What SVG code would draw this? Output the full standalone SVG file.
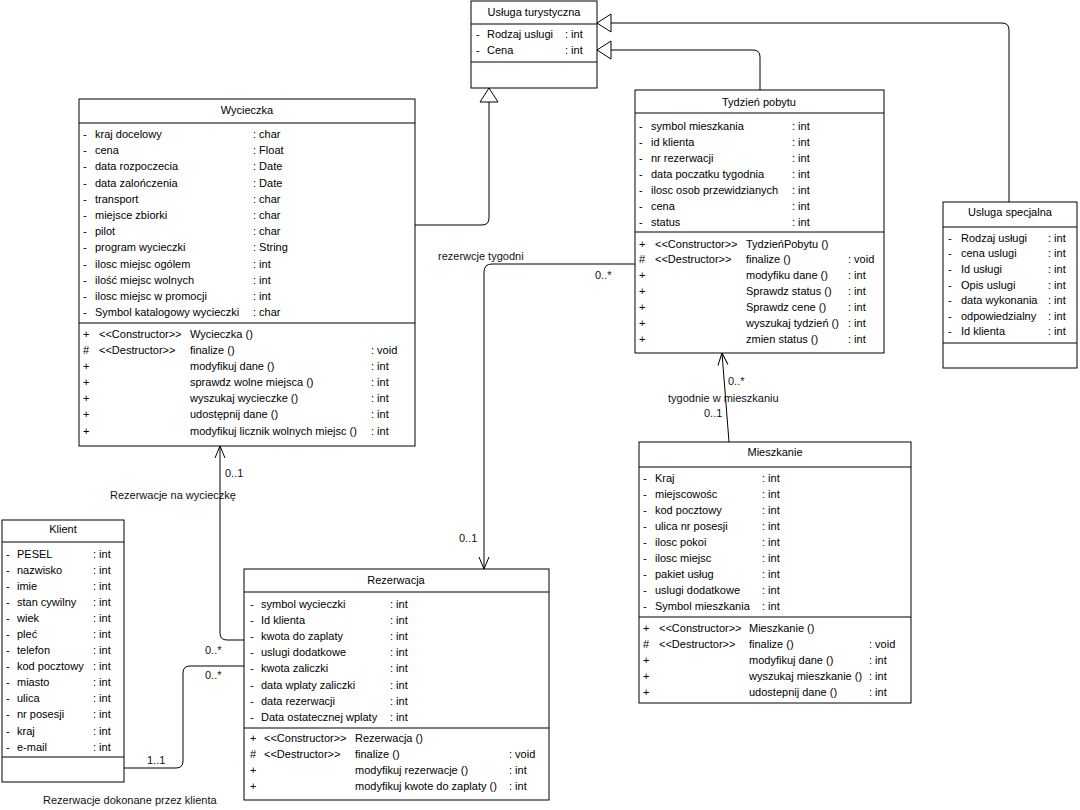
<svg xmlns="http://www.w3.org/2000/svg" width="1080" height="810" viewBox="0 0 1080 810">
<style>
.box{fill:#fff;stroke:#000;stroke-width:1}
.sep{stroke:#000;stroke-width:1}
text{font-family:"Liberation Sans",Arial,sans-serif;font-size:11px;fill:#000}
.c{text-anchor:middle}
.conn{fill:none;stroke:#000;stroke-width:1}
.lbl{fill:#111}
</style>
<defs>
<marker id="tri" markerUnits="userSpaceOnUse" viewBox="0 0 16 20" refX="15" refY="10" markerWidth="16" markerHeight="20" orient="auto">
<path d="M1,1 L15,10 L1,19 Z" fill="#fff" stroke="#000" stroke-width="1"/>
</marker>
<marker id="open" markerUnits="userSpaceOnUse" viewBox="0 0 14 12" refX="13" refY="6" markerWidth="14" markerHeight="12" orient="auto">
<path d="M1,1 L13,6 L1,11" fill="none" stroke="#000" stroke-width="1"/>
</marker>
</defs>
<rect width="1080" height="810" fill="#fff"/>

<g id="connectors">
<path class="conn" d="M415,225 H482 Q489,225 489,218 V88" marker-end="url(#tri)"/>
<path class="conn" d="M760,90 V57 Q760,50 753,50 H597" marker-end="url(#tri)"/>
<path class="conn" d="M1009,202 V30 Q1009,23 1002,23 H597" marker-end="url(#tri)"/>
<path class="conn" d="M635,264 H492 Q484,264 484,272 V569" marker-end="url(#open)"/>
<path class="conn" d="M244,640 H227 Q220,640 220,633 V446" marker-end="url(#open)"/>
<path class="conn" d="M124,768 H176 Q183,768 183,761 V673 Q183,666 190,666 H244"/>
<path class="conn" d="M729,442 L722,353" marker-end="url(#open)"/>
<text class="lbl" x="438" y="260">rezerwcje tygodni</text>
<text class="lbl" x="595" y="279">0..*</text>
<text class="lbl" x="459" y="542">0..1</text>
<text class="lbl" x="225" y="477">0..1</text>
<text class="lbl" x="110" y="499">Rezerwacje na wycieczkę</text>
<text class="lbl" x="205" y="654">0..*</text>
<text class="lbl" x="205" y="679">0..*</text>
<text class="lbl" x="147" y="764">1..1</text>
<text class="lbl" x="43" y="804">Rezerwacje dokonane przez klienta</text>
<text class="lbl" x="728" y="385">0..*</text>
<text class="lbl" x="668" y="402">tygodnie w mieszkaniu</text>
<text class="lbl" x="704" y="417">0..1</text>
</g>

<g id="usluga-turystyczna">
<rect class="box" x="471" y="1" width="126" height="87"/>
<line class="sep" x1="471" y1="24" x2="597" y2="24"/>
<line class="sep" x1="471" y1="62" x2="597" y2="62"/>
<text class="c" x="534" y="16">Usługa turystyczna</text>
<text x="476" y="38">-</text><text x="487" y="38">Rodzaj uslugi</text><text x="565" y="38">: int</text>
<text x="476" y="54">-</text><text x="487" y="54">Cena</text><text x="565" y="54">: int</text>
</g>

<g id="wycieczka">
<rect class="box" x="79" y="99" width="336" height="347"/>
<line class="sep" x1="79" y1="123" x2="415" y2="123"/>
<line class="sep" x1="79" y1="323" x2="415" y2="323"/>
<text class="c" x="247" y="114">Wycieczka</text>
<text x="83" y="138">-</text><text x="95" y="138">kraj docelowy</text><text x="253" y="138">: char</text>
<text x="83" y="154">-</text><text x="95" y="154">cena</text><text x="253" y="154">: Float</text>
<text x="83" y="170">-</text><text x="95" y="170">data rozpoczecia</text><text x="253" y="170">: Date</text>
<text x="83" y="187">-</text><text x="95" y="187">data zalończenia</text><text x="253" y="187">: Date</text>
<text x="83" y="203">-</text><text x="95" y="203">transport</text><text x="253" y="203">: char</text>
<text x="83" y="219">-</text><text x="95" y="219">miejsce zbiorki</text><text x="253" y="219">: char</text>
<text x="83" y="235">-</text><text x="95" y="235">pilot</text><text x="253" y="235">: char</text>
<text x="83" y="251">-</text><text x="95" y="251">program wycieczki</text><text x="253" y="251">: String</text>
<text x="83" y="268">-</text><text x="95" y="268">ilosc miejsc ogólem</text><text x="253" y="268">: int</text>
<text x="83" y="284">-</text><text x="95" y="284">ilość miejsc wolnych</text><text x="253" y="284">: int</text>
<text x="83" y="300">-</text><text x="95" y="300">ilosc miejsc w promocji</text><text x="253" y="300">: int</text>
<text x="83" y="316">-</text><text x="95" y="316">Symbol katalogowy wycieczki</text><text x="253" y="316">: char</text>
<text x="83" y="338">+</text><text x="99" y="338">&lt;&lt;Constructor&gt;&gt;</text><text x="190" y="338">Wycieczka ()</text>
<text x="83" y="354">#</text><text x="99" y="354">&lt;&lt;Destructor&gt;&gt;</text><text x="190" y="354">finalize ()</text><text x="371" y="354">: void</text>
<text x="83" y="370">+</text><text x="190" y="370">modyfikuj dane ()</text><text x="371" y="370">: int</text>
<text x="83" y="386">+</text><text x="190" y="386">sprawdz wolne miejsca ()</text><text x="371" y="386">: int</text>
<text x="83" y="402">+</text><text x="190" y="402">wyszukaj wycieczke ()</text><text x="371" y="402">: int</text>
<text x="83" y="418">+</text><text x="190" y="418">udostępnij dane ()</text><text x="371" y="418">: int</text>
<text x="83" y="435">+</text><text x="190" y="435">modyfikuj licznik wolnych miejsc ()</text><text x="371" y="435">: int</text>
</g>

<g id="tydzien-pobytu">
<rect class="box" x="635" y="90" width="249" height="263"/>
<line class="sep" x1="635" y1="113" x2="884" y2="113"/>
<line class="sep" x1="635" y1="232" x2="884" y2="232"/>
<text class="c" x="759" y="106">Tydzień pobytu</text>
<text x="639" y="130">-</text><text x="651" y="130">symbol mieszkania</text><text x="792" y="130">: int</text>
<text x="639" y="146">-</text><text x="651" y="146">id klienta</text><text x="792" y="146">: int</text>
<text x="639" y="162">-</text><text x="651" y="162">nr rezerwacji</text><text x="792" y="162">: int</text>
<text x="639" y="178">-</text><text x="651" y="178">data poczatku tygodnia</text><text x="792" y="178">: int</text>
<text x="639" y="194">-</text><text x="651" y="194">ilosc osob przewidzianych</text><text x="792" y="194">: int</text>
<text x="639" y="210">-</text><text x="651" y="210">cena</text><text x="792" y="210">: int</text>
<text x="639" y="226">-</text><text x="651" y="226">status</text><text x="792" y="226">: int</text>
<text x="639" y="248">+</text><text x="655" y="248">&lt;&lt;Constructor&gt;&gt;</text><text x="746" y="248">TydzieńPobytu ()</text>
<text x="639" y="263">#</text><text x="655" y="263">&lt;&lt;Destructor&gt;&gt;</text><text x="746" y="263">finalize ()</text><text x="848" y="263">: void</text>
<text x="639" y="279">+</text><text x="746" y="279">modyfiku dane ()</text><text x="848" y="279">: int</text>
<text x="639" y="295">+</text><text x="746" y="295">Sprawdz status ()</text><text x="848" y="295">: int</text>
<text x="639" y="311">+</text><text x="746" y="311">Sprawdz cene ()</text><text x="848" y="311">: int</text>
<text x="639" y="327">+</text><text x="746" y="327">wyszukaj tydzień ()</text><text x="848" y="327">: int</text>
<text x="639" y="343">+</text><text x="746" y="343">zmien status ()</text><text x="848" y="343">: int</text>
</g>

<g id="usluga-specjalna">
<rect class="box" x="943" y="202" width="134" height="166"/>
<line class="sep" x1="943" y1="227" x2="1077" y2="227"/>
<line class="sep" x1="943" y1="343" x2="1077" y2="343"/>
<text class="c" x="1010" y="216">Usluga specjalna</text>
<text x="948" y="242">-</text><text x="961" y="242">Rodzaj  usługi</text><text x="1048" y="242">: int</text>
<text x="948" y="257">-</text><text x="961" y="257">cena uslugi</text><text x="1048" y="257">: int</text>
<text x="948" y="273">-</text><text x="961" y="273">Id usługi</text><text x="1048" y="273">: int</text>
<text x="948" y="289">-</text><text x="961" y="289">Opis uslugi</text><text x="1048" y="289">: int</text>
<text x="948" y="304">-</text><text x="961" y="304">data wykonania</text><text x="1048" y="304">: int</text>
<text x="948" y="320">-</text><text x="961" y="320">odpowiedzialny</text><text x="1048" y="320">: int</text>
<text x="948" y="335">-</text><text x="961" y="335">Id klienta</text><text x="1048" y="335">: int</text>
</g>

<g id="mieszkanie">
<rect class="box" x="639" y="442" width="272" height="261"/>
<line class="sep" x1="639" y1="467" x2="911" y2="467"/>
<line class="sep" x1="639" y1="617" x2="911" y2="617"/>
<text class="c" x="775" y="456">Mieszkanie</text>
<text x="643" y="482">-</text><text x="655" y="482">Kraj</text><text x="762" y="482">: int</text>
<text x="643" y="498">-</text><text x="655" y="498">miejscowośc</text><text x="762" y="498">: int</text>
<text x="643" y="514">-</text><text x="655" y="514">kod pocztowy</text><text x="762" y="514">: int</text>
<text x="643" y="530">-</text><text x="655" y="530">ulica nr posesji</text><text x="762" y="530">: int</text>
<text x="643" y="546">-</text><text x="655" y="546">ilosc pokoi</text><text x="762" y="546">: int</text>
<text x="643" y="562">-</text><text x="655" y="562">ilosc miejsc</text><text x="762" y="562">: int</text>
<text x="643" y="578">-</text><text x="655" y="578">pakiet usług</text><text x="762" y="578">: int</text>
<text x="643" y="594">-</text><text x="655" y="594">uslugi dodatkowe</text><text x="762" y="594">: int</text>
<text x="643" y="610">-</text><text x="655" y="610">Symbol mieszkania</text><text x="762" y="610">: int</text>
<text x="643" y="632">+</text><text x="659" y="632">&lt;&lt;Constructor&gt;&gt;</text><text x="749" y="632">Mieszkanie ()</text>
<text x="643" y="648">#</text><text x="659" y="648">&lt;&lt;Destructor&gt;&gt;</text><text x="749" y="648">finalize ()</text><text x="869" y="648">: void</text>
<text x="643" y="664">+</text><text x="749" y="664">modyfikuj dane ()</text><text x="869" y="664">: int</text>
<text x="643" y="680">+</text><text x="749" y="680">wyszukaj mieszkanie ()</text><text x="869" y="680">: int</text>
<text x="643" y="696">+</text><text x="749" y="696">udostepnij dane ()</text><text x="869" y="696">: int</text>
</g>

<g id="klient">
<rect class="box" x="2" y="520" width="122" height="262"/>
<line class="sep" x1="2" y1="542" x2="124" y2="542"/>
<line class="sep" x1="2" y1="757" x2="124" y2="757"/>
<text class="c" x="63" y="533">Klient</text>
<text x="6" y="558">-</text><text x="17" y="558">PESEL</text><text x="93" y="558">: int</text>
<text x="6" y="574">-</text><text x="17" y="574">nazwisko</text><text x="93" y="574">: int</text>
<text x="6" y="590">-</text><text x="17" y="590">imie</text><text x="93" y="590">: int</text>
<text x="6" y="606">-</text><text x="17" y="606">stan cywilny</text><text x="93" y="606">: int</text>
<text x="6" y="622">-</text><text x="17" y="622">wiek</text><text x="93" y="622">: int</text>
<text x="6" y="638">-</text><text x="17" y="638">pleć</text><text x="93" y="638">: int</text>
<text x="6" y="654">-</text><text x="17" y="654">telefon</text><text x="93" y="654">: int</text>
<text x="6" y="670">-</text><text x="17" y="670">kod pocztowy</text><text x="93" y="670">: int</text>
<text x="6" y="686">-</text><text x="17" y="686">miasto</text><text x="93" y="686">: int</text>
<text x="6" y="702">-</text><text x="17" y="702">ulica</text><text x="93" y="702">: int</text>
<text x="6" y="718">-</text><text x="17" y="718">nr posesji</text><text x="93" y="718">: int</text>
<text x="6" y="735">-</text><text x="17" y="735">kraj</text><text x="93" y="735">: int</text>
<text x="6" y="751">-</text><text x="17" y="751">e-mail</text><text x="93" y="751">: int</text>
</g>

<g id="rezerwacja">
<rect class="box" x="244" y="569" width="305" height="231"/>
<line class="sep" x1="244" y1="592" x2="549" y2="592"/>
<line class="sep" x1="244" y1="728" x2="549" y2="728"/>
<text class="c" x="396" y="584">Rezerwacja</text>
<text x="250" y="608">-</text><text x="261" y="608">symbol wycieczki</text><text x="390" y="608">: int</text>
<text x="250" y="624">-</text><text x="261" y="624">Id klienta</text><text x="390" y="624">: int</text>
<text x="250" y="640">-</text><text x="261" y="640">kwota do zaplaty</text><text x="390" y="640">: int</text>
<text x="250" y="656">-</text><text x="261" y="656">uslugi dodatkowe</text><text x="390" y="656">: int</text>
<text x="250" y="672">-</text><text x="261" y="672">kwota zaliczki</text><text x="390" y="672">: int</text>
<text x="250" y="689">-</text><text x="261" y="689">data wplaty zaliczki</text><text x="390" y="689">: int</text>
<text x="250" y="705">-</text><text x="261" y="705">data rezerwacji</text><text x="390" y="705">: int</text>
<text x="250" y="721">-</text><text x="261" y="721">Data ostatecznej wplaty</text><text x="390" y="721">: int</text>
<text x="250" y="742">+</text><text x="264" y="742">&lt;&lt;Constructor&gt;&gt;</text><text x="355" y="742">Rezerwacja ()</text>
<text x="250" y="758">#</text><text x="264" y="758">&lt;&lt;Destructor&gt;&gt;</text><text x="355" y="758">finalize ()</text><text x="509" y="758">: void</text>
<text x="250" y="774">+</text><text x="355" y="774">modyfikuj rezerwacje ()</text><text x="509" y="774">: int</text>
<text x="250" y="790">+</text><text x="355" y="790">modyfikuj kwote do zaplaty ()</text><text x="509" y="790">: int</text>
</g>
</svg>
